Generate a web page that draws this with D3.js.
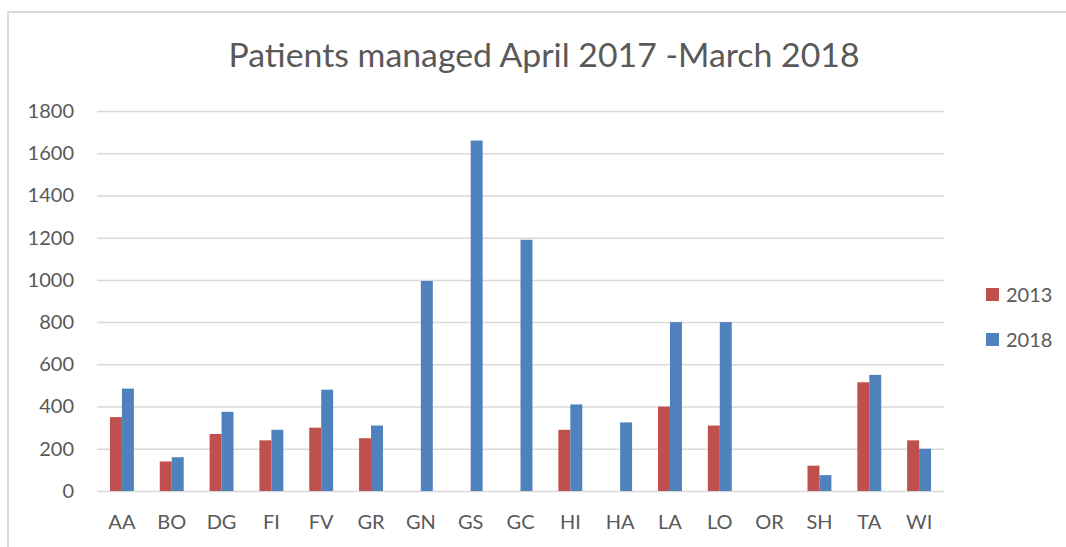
<!DOCTYPE html>
<html>
<head>
<meta charset="utf-8">
<script src="https://cdn.jsdelivr.net/npm/d3@7"></script>
<style>
  body { margin: 0; background: #fff; }
  svg { display: block; font-family: Lato, "Open Sans", sans-serif; }
</style>
</head>
<body>
<svg id="chart"></svg>
<script>
// chart data
var categories = ["AA","BO","DG","FI","FV","GR","GN","GS","GC","HI","HA","LA","LO","OR","SH","TA","WI"];
var series = ["2013","2018"];
var values2013 = [350,140,270,240,300,250,0,0,0,290,0,400,310,0,120,515,240];
var values2018 = [485,160,375,290,480,310,995,1660,1190,410,325,800,800,0,75,550,200];
var yTicks = [0,200,400,600,800,1000,1200,1400,1600,1800];

var svgWidth = 1066, svgHeight = 547;
var colors = ["#C0504D","#4F81BD"];
var textColor = "#595959";

var svg = d3.select("#chart")
   .attr("width", svgWidth)
   .attr("height", svgHeight);

// outer chart frame
svg.append("rect")
   .attr("x", 8).attr("y", 12)
   .attr("width", 1100).attr("height", 600)
   .attr("fill", "none")
   .attr("stroke", "#d9d9d9")
   .attr("stroke-width", 2);

// title
svg.append("text")
   .attr("x", 544).attr("y", 67)
   .attr("text-anchor", "middle")
   .attr("fill", textColor)
   .style("font-size", "32px")
   .attr("textLength", 631)
   .attr("lengthAdjust", "spacingAndGlyphs")
   .text("Patients managed April 2017 -March 2018");

var x = d3.scaleBand().domain(categories).range([97, 944]).padding(0);
var y = d3.scaleLinear().domain([0, 1800]).range([491, 111]);

// y axis with gridlines
var yAxis = svg.append("g")
   .attr("transform", "translate(97,0)")
   .call(d3.axisLeft(y).tickValues(yTicks).tickSize(-847).tickPadding(23).tickFormat(d3.format("d")));
yAxis.select(".domain").remove();
yAxis.selectAll("line").attr("stroke", "#d9d9d9").attr("stroke-width", 1.5);
yAxis.selectAll("text").attr("fill", textColor).style("font-size", "20px").style("font-family", "Lato, sans-serif");

// x axis labels
var xAxis = svg.append("g")
   .attr("transform", "translate(0,491)")
   .call(d3.axisBottom(x).tickSize(0));
xAxis.select(".domain").remove();
xAxis.selectAll("text")
   .attr("y", 38).attr("dy", 0)
   .attr("fill", textColor)
   .style("font-size", "20px")
   .style("font-family", "Lato, sans-serif");

// bars
var barW = x.bandwidth() * 0.24;
var rows = categories.map(function(c, i) {
   return {cat: c, vals: [values2013[i], values2018[i]]};
});

var groups = svg.selectAll(".cat")
   .data(rows)
   .enter()
   .append("g")
   .attr("transform", function(d) { return "translate(" + (x(d.cat) + x.bandwidth() / 2 - barW) + ",0)"; });

groups.selectAll("rect")
   .data(function(d) { return d.vals; })
   .enter()
   .append("rect")
   .attr("x", function(d, i) { return i * barW; })
   .attr("y", function(d) { return y(d); })
   .attr("width", barW)
   .attr("height", function(d) { return y(0) - y(d); })
   .attr("fill", function(d, i) { return colors[i]; });

// legend
var legend = svg.selectAll(".legend")
   .data(series)
   .enter()
   .append("g")
   .attr("transform", function(d, i) { return "translate(986," + (288 + i * 45) + ")"; });

legend.append("rect")
   .attr("width", 13).attr("height", 13)
   .attr("fill", function(d, i) { return colors[i]; });

legend.append("text")
   .attr("x", 20).attr("y", 7).attr("dy", "0.35em")
   .attr("fill", textColor)
   .style("font-size", "20px")
   .text(function(d) { return d; });
</script>
</body>
</html>
